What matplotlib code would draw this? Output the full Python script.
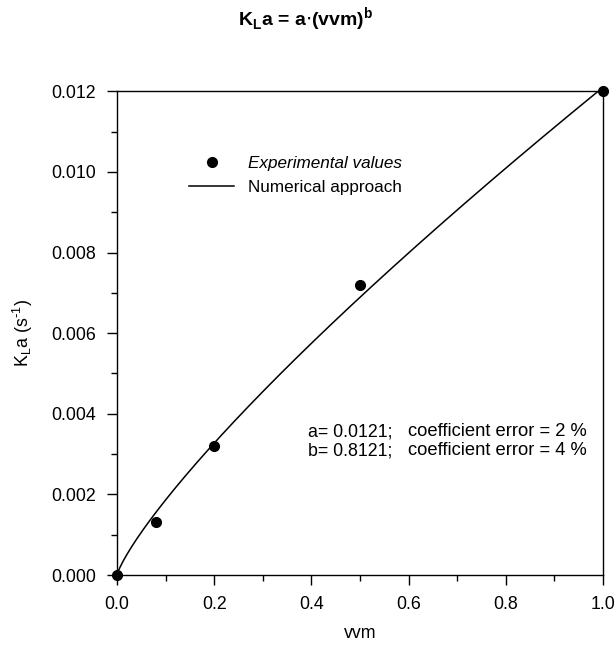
import matplotlib.pyplot as plt
import numpy as np
from matplotlib.ticker import MultipleLocator, FormatStrFormatter

plt.rcParams['font.family'] = ['Liberation Sans', 'DejaVu Sans']

# Experimental data
vvm = [0.0, 0.08, 0.2, 0.5, 1.0]
kla = [0.0, 0.00132, 0.0032, 0.0072, 0.012]

# Fitted parameters and their errors
a = 0.0121
b = 0.8121
err_a = 2
err_b = 4

x_fit = np.linspace(0, 1, 300)
y_fit = a * x_fit ** b

fs = 12.8

fig = plt.figure(figsize=(6.16, 6.52), dpi=100)
ax = fig.add_axes([0.190, 0.118, 0.789, 0.742])

ax.plot(vvm, kla, 'o', color='black', markersize=7, clip_on=False, zorder=3,
        label='Experimental values')
ax.plot(x_fit, y_fit, '-', color='black', linewidth=1.1, label='Numerical approach')

ax.set_xlim(0, 1.0)
ax.set_ylim(0, 0.012)
ax.xaxis.set_major_locator(MultipleLocator(0.2))
ax.xaxis.set_minor_locator(MultipleLocator(0.1))
ax.yaxis.set_major_locator(MultipleLocator(0.002))
ax.yaxis.set_minor_locator(MultipleLocator(0.001))
ax.xaxis.set_major_formatter(FormatStrFormatter('%.1f'))
ax.yaxis.set_major_formatter(FormatStrFormatter('%.3f'))
ax.tick_params(which='both', direction='out', top=False, right=False,
               labelsize=fs, width=1)
ax.tick_params(which='major', length=7, pad=8)
ax.tick_params(which='minor', length=4)
for s in ax.spines.values():
    s.set_linewidth(1)

ax.set_xlabel('vvm', fontsize=fs, labelpad=9)
ax.set_ylabel(r'K$_{\mathregular{L}}$a (s$^{\mathregular{\text{-}1}}$)', fontsize=fs, labelpad=12)

leg = ax.legend(loc='upper left', bbox_to_anchor=(0.149, 0.866), frameon=False,
                fontsize=12.3, handlelength=2.6, handletextpad=0.8,
                labelspacing=0.5, borderpad=0, borderaxespad=0)
leg.get_texts()[0].set_style('italic')

# Fit parameters with their coefficient errors
ax.text(0.393, 0.296, 'a= %.4f;' % a, transform=ax.transAxes, fontsize=fs, va='center')
ax.text(0.393, 0.257, 'b= %.4f;' % b, transform=ax.transAxes, fontsize=fs, va='center')
ax.text(0.967, 0.296, 'coefficient error = %d %%' % err_a, ha='right',
        transform=ax.transAxes, fontsize=13.2, va='center')
ax.text(0.967, 0.257, 'coefficient error = %d %%' % err_b, ha='right',
        transform=ax.transAxes, fontsize=13.2, va='center')

fig.text(0.497, 0.970, r'K$_{\mathregular{L}}$a = a$\cdot$(vvm)$^{\mathregular{b}}$',
         ha='center', va='center', fontsize=14, fontweight='bold')

fig.savefig('out.png', dpi=100)
